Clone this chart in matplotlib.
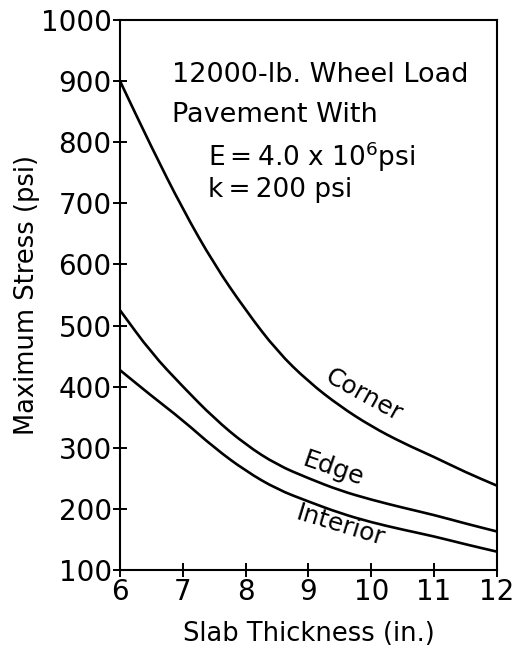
import matplotlib.pyplot as plt
from matplotlib.path import Path
from matplotlib.patches import PathPatch

# Contrainte maximale en fonction de l'epaisseur de dalle (charge de roue 12000 lb)
epaisseur = [6, 6.5, 7, 7.5, 8, 8.5, 9, 9.5, 10, 10.5, 11, 11.5, 12]
coin = [900, 792, 690, 600, 525, 458, 408, 368, 335, 308, 285, 260, 238]
bord = [525, 455, 400, 348, 305, 272, 250, 230, 215, 202, 190, 176, 163]
interieur = [427, 385, 345, 300, 262, 232, 212, 193, 178, 166, 155, 142, 130]

x_ticks = [6, 7, 8, 9, 10, 11, 12]
y_ticks = [100, 200, 300, 400, 500, 600, 700, 800, 900, 1000]


def courbe_lisse(xs, ys):
    # chemin de Bezier quadratique passant par les milieux des segments
    pts = list(zip(xs, ys))
    verts = [pts[0]]
    codes = [Path.MOVETO]
    m0 = ((pts[0][0] + pts[1][0]) / 2, (pts[0][1] + pts[1][1]) / 2)
    verts.append(m0)
    codes.append(Path.LINETO)
    for i in range(1, len(pts) - 1):
        m = ((pts[i][0] + pts[i + 1][0]) / 2, (pts[i][1] + pts[i + 1][1]) / 2)
        verts += [pts[i], m]
        codes += [Path.CURVE3, Path.CURVE3]
    verts.append(pts[-1])
    codes.append(Path.LINETO)
    return Path(verts, codes)


plt.rcParams['font.family'] = ['DejaVu Sans']

fig = plt.figure(figsize=(5.16, 6.55), dpi=100)
ax = fig.add_axes([0.2326, 0.1298, 0.7304, 0.8397])

for serie in (coin, bord, interieur):
    ax.add_patch(PathPatch(courbe_lisse(epaisseur, serie), facecolor='none',
                           edgecolor='black', linewidth=1.9))

ax.set_xlim(6, 12)
ax.set_ylim(100, 1000)
ax.set_xticks(x_ticks)
ax.set_yticks(y_ticks)
ax.tick_params(direction='inout', length=10, width=1.4, labelsize=20, pad=1)
for s in ax.spines.values():
    s.set_linewidth(1.5)

ax.set_xlabel("Slab Thickness (in.)", fontsize=18.5)
ax.set_ylabel("Maximum Stress (psi)", fontsize=18.5)
ax.xaxis.set_label_coords(0.5, -0.093)
ax.yaxis.set_label_coords(-0.212, 0.5)

# Texte dans le cadre
ax.text(6.83, 910, "12000-lb. Wheel Load", fontsize=19.5, va='center')
ax.text(6.83, 845, "Pavement With", fontsize=19.5, va='center')
ax.text(7.4, 776, "E\u2009=\u20094.0 x 10$^{6}$psi", fontsize=19, va='center')
ax.text(7.4, 722, "k\u2009=\u2009200 psi", fontsize=19, va='center')

# Noms des courbes
ax.text(9.88, 386, "Corner", fontsize=18, rotation=-29, ha='center', va='center')
ax.text(9.4, 266, "Edge", fontsize=18, rotation=-19, ha='center', va='center')
ax.text(9.5, 172, "Interior", fontsize=18, rotation=-17, ha='center', va='center')

fig.savefig("out.png", dpi=100)
